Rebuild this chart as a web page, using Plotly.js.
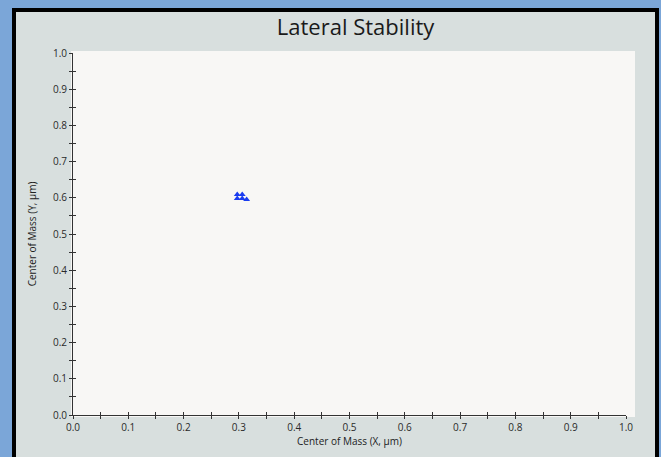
<!DOCTYPE html>
<html>
<head>
<meta charset="utf-8">
<script src="https://cdn.plot.ly/plotly-3.0.1.min.js"></script>
<style>
  html, body { margin:0; padding:0; background:#7ba6d8; width:661px; height:457px; overflow:hidden; }
  #frame { position:absolute; left:12px; top:8px; width:647px; height:470px; background:#000; }
  #chart { position:absolute; left:16px; top:12px; width:639px; height:445px; }
</style>
</head>
<body>
<div id="frame"></div>
<div id="chart"></div>
<script>
// Data
const xValues = [0.297, 0.297, 0.306, 0.306, 0.314];
const yValues = [0.609, 0.598, 0.609, 0.598, 0.595];
const tickVals = [0.0, 0.1, 0.2, 0.3, 0.4, 0.5, 0.6, 0.7, 0.8, 0.9, 1.0];
const tickText = ["0.0","0.1","0.2","0.3","0.4","0.5","0.6","0.7","0.8","0.9","1.0"];

const FONT = "Open Sans, Lato, sans-serif";
const axisCommon = {
  range: [0, 1],
  fixedrange: true,
  showgrid: false,
  zeroline: false,
  showline: true,
  linecolor: "#333",
  linewidth: 1,
  ticks: "outside",
  ticklen: 3,
  tickcolor: "#333",
  tickvals: tickVals,
  ticktext: tickText,
  tickfont: { family: FONT, size: 10, color: "#2a2a2a" },
  minor: { ticks: "outside", dtick: 0.05, ticklen: 3, tickcolor: "#333", showgrid: false },
};
const overlayCommon = {
  range: [0, 1],
  fixedrange: true,
  showgrid: false,
  zeroline: false,
  showline: false,
  ticks: "inside",
  ticklen: 3,
  tickcolor: "#333",
  tickvals: tickVals,
  showticklabels: false,
  minor: { ticks: "inside", dtick: 0.05, ticklen: 3, tickcolor: "#333", showgrid: false },
};

const data = [
  {
    type: "scatter",
    mode: "markers",
    x: xValues,
    y: yValues,
    marker: { symbol: "triangle-up", size: 6, color: "#1a3cf0" },
    hoverinfo: "skip",
    showlegend: false
  },
  { type: "scatter", mode: "markers", x: [], y: [], xaxis: "x2", yaxis: "y2", showlegend: false }
];

const layout = {
  width: 639,
  height: 445,
  margin: { l: 57, r: 29, t: 41, b: 42 },
  paper_bgcolor: "#d8dfde",
  plot_bgcolor: "rgba(0,0,0,0)",
  showlegend: false,
  title: {
    text: "Lateral Stability",
    font: { family: FONT, size: 22, color: "#1a1a1a" },
    x: 0.511, xref: "paper", xanchor: "center",
    y: 0.966, yref: "container", yanchor: "middle"
  },
  xaxis: Object.assign({}, axisCommon, {
    title: { text: "Center of Mass (X, \u00b5m)", font: { family: FONT, size: 10, color: "#222" }, standoff: 2 }
  }),
  yaxis: Object.assign({}, axisCommon, {
    title: { text: "Center of Mass (Y, \u00b5m)", font: { family: FONT, size: 10, color: "#222" }, standoff: 14 }
  }),
  xaxis2: Object.assign({}, overlayCommon, { overlaying: "x", anchor: "y2" }),
  yaxis2: Object.assign({}, overlayCommon, { overlaying: "y", anchor: "x2" }),
  shapes: [
    { type: "rect", xref: "paper", yref: "paper", x0: -0.0036, x1: 1.0163, y0: -0.0055, y1: 1.0055,
      fillcolor: "#f8f7f5", line: { width: 0 }, layer: "below" }
  ]
};

Plotly.newPlot("chart", data, layout, { staticPlot: true, displayModeBar: false });
</script>
</body>
</html>
